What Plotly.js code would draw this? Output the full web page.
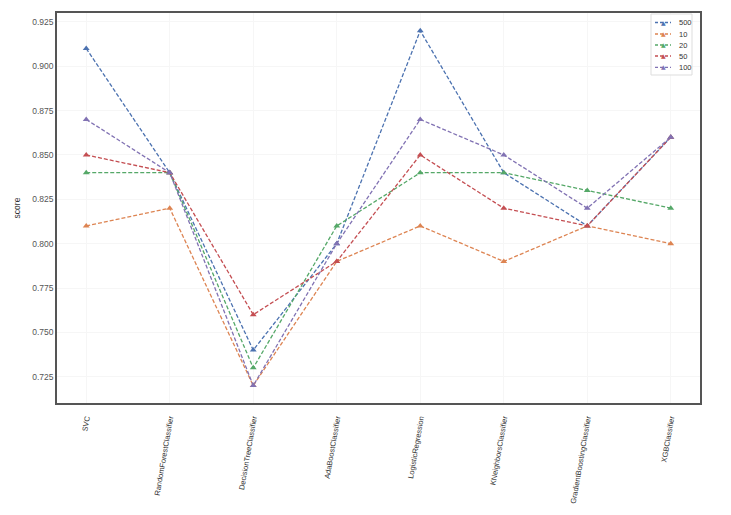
<!DOCTYPE html>
<html>
<head>
<meta charset="utf-8">
<script src="https://cdn.plot.ly/plotly-3.0.1.min.js"></script>
<style>
  html, body { margin: 0; padding: 0; background: #fff; }
  #chart { width: 731px; height: 515px; }
</style>
</head>
<body>
<div id="chart"></div>
<script>
var models = ['SVC', 'RandomForestClassifier', 'DecisionTreeClassifier', 'AdaBoostClassifier',
  'LogisticRegression', 'KNeighborsClassifier', 'GradientBoostingClassifier', 'XGBClassifier'];

var names = ['500', '10', '20', '50', '100'];
var score_500 = [0.91, 0.84, 0.74, 0.80, 0.92, 0.84, 0.81, 0.86];
var score_10  = [0.81, 0.82, 0.72, 0.79, 0.81, 0.79, 0.81, 0.80];
var score_20  = [0.84, 0.84, 0.73, 0.81, 0.84, 0.84, 0.83, 0.82];
var score_50  = [0.85, 0.84, 0.76, 0.79, 0.85, 0.82, 0.81, 0.86];
var score_100 = [0.87, 0.84, 0.72, 0.80, 0.87, 0.85, 0.82, 0.86];

var colors = ['#4c72b0', '#dd8452', '#55a868', '#c44e52', '#8172b3'];
var series = [score_500, score_10, score_20, score_50, score_100];

var data = [];
for (var i = 0; i < series.length; i++) {
  data.push({
    x: models,
    y: series[i],
    name: names[i],
    type: 'scatter',
    mode: 'lines+markers',
    line: { color: colors[i], width: 1.3, dash: '4px,2px' },
    marker: { symbol: 'triangle-up', size: 6, color: colors[i] }
  });
}

// plot area in pixels (used to place the compact legend)
var L = 57, T = 13, W = 731 - 57 - 31, H = 515 - 13 - 112;
function px(x) { return (x - L) / W; }
function py(y) { return 1 - (y - T) / H; }

// compact matplotlib-style legend built from shapes + annotations
var shapes = [{
  type: 'rect', xref: 'paper', yref: 'paper', layer: 'above',
  x0: px(651), x1: px(692), y0: py(14), y1: py(75),
  fillcolor: 'rgba(255,255,255,0.9)', line: { color: '#dddddd', width: 1 }
}];
var annotations = [];
var rowY = [22.5, 34, 45, 56, 67.3];
for (var j = 0; j < names.length; j++) {
  shapes.push({
    type: 'line', xref: 'paper', yref: 'paper', layer: 'above',
    x0: px(655), x1: px(671), y0: py(rowY[j]), y1: py(rowY[j]),
    line: { color: colors[j], width: 1.3, dash: '3px,2px' }
  });
  annotations.push({
    xref: 'paper', yref: 'paper', x: px(663), y: py(rowY[j] - 0.5),
    text: '▲', showarrow: false, xanchor: 'center', yanchor: 'middle',
    font: { size: 6, color: colors[j], family: 'DejaVu Sans' }
  });
  annotations.push({
    xref: 'paper', yref: 'paper', x: px(677), y: py(rowY[j]),
    text: names[j], showarrow: false, xanchor: 'left', yanchor: 'middle',
    font: { size: 7.5, color: '#333' }
  });
}

var layout = {
  width: 731,
  height: 515,
  margin: { l: L, r: 31, t: T, b: 112 },
  paper_bgcolor: '#fff',
  plot_bgcolor: '#fff',
  font: { family: 'Liberation Sans, Arial, sans-serif', size: 9, color: '#444' },
  showlegend: false,
  shapes: shapes,
  annotations: annotations,
  xaxis: {
    type: 'category',
    range: [-0.35, 7.35],
    tickangle: -80,
    ticklabelstandoff: 6,
    tickfont: { size: 7.5, color: '#333' },
    showgrid: true, gridcolor: '#f6f6f6',
    showline: true, mirror: true, linecolor: '#555', linewidth: 1.5,
    ticks: '', zeroline: false
  },
  yaxis: {
    range: [0.7102, 0.930],
    tickvals: [0.725, 0.75, 0.775, 0.8, 0.825, 0.85, 0.875, 0.9, 0.925],
    tickformat: '.3f',
    tickfont: { size: 8.5, color: '#555' },
    title: { text: 'score', font: { size: 8.5, color: '#333' }, standoff: 10 },
    showgrid: true, gridcolor: '#f6f6f6',
    showline: true, mirror: true, linecolor: '#555', linewidth: 1.5,
    ticks: '', zeroline: false
  }
};

Plotly.newPlot('chart', data, layout, { displayModeBar: false });
</script>
</body>
</html>
